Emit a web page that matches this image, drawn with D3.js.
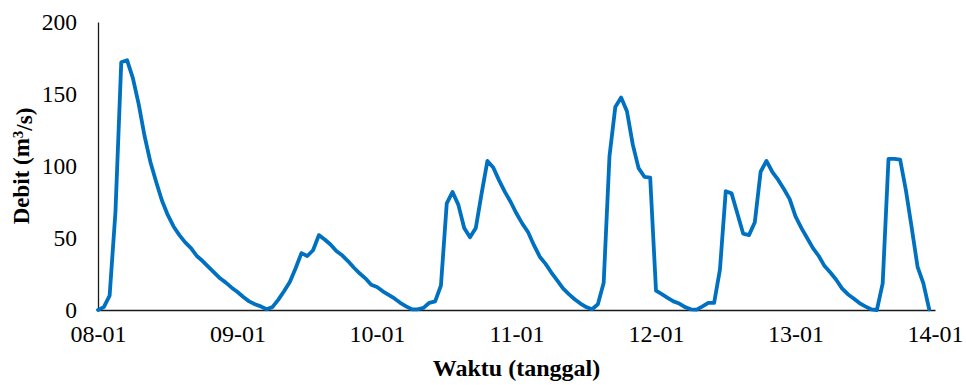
<!DOCTYPE html>
<html>
<head>
<meta charset="utf-8">
<script src="https://cdn.jsdelivr.net/npm/d3@7"></script>
<style>
  html, body { margin: 0; padding: 0; background: #fff; }
  svg { display: block; }
  text { font-family: "Times New Roman", "Liberation Serif", serif; fill: #000; }
</style>
</head>
<body>
<svg id="chart" width="966" height="385"></svg>
<script>
// Hourly discharge (m3/s), starting 08-01 00:00
const debit = [
  0, 2, 10, 68, 172, 173.5, 161, 143, 121, 103,
  89, 76, 66, 58, 52, 47, 43, 37.5, 34, 30,
  26, 22, 19, 15.5, 12.5, 9, 6, 4, 2.5, 0.5,
  2, 7, 13, 19.5, 29, 39.5, 37.5, 41.5, 52, 49,
  45.5, 41, 38, 34, 29.5, 25.5, 22, 17.5, 16, 13,
  10.5, 8, 5, 2.5, 0.5, 0.5, 1.5, 5, 6, 17,
  74, 82, 73, 57, 50.5, 57, 81, 103.5, 99, 90,
  82, 75, 67, 60, 54, 45, 37, 32, 26, 20.5,
  15, 11, 7.5, 4.5, 2, 0.5, 4, 19, 107, 141,
  147.5, 138, 115, 98.5, 92.5, 92, 13.4, 11, 8.5, 6,
  4.5, 2, 0.5, 0.3, 2.5, 5, 5, 28, 82.5, 81,
  67, 53, 52, 61, 96, 103.5, 96, 90.5, 84, 77,
  65, 57, 50, 43, 37.5, 30.5, 26, 21, 15, 11,
  8, 4.8, 2.5, 0.5, 0, 18.5, 105, 105, 104.5, 83,
  57, 30, 18.5, 0.5
];
const dayLabels = ["08-01", "09-01", "10-01", "11-01", "12-01", "13-01", "14-01"];
const yTicks = [0, 50, 100, 150, 200];
const xTitle = "Waktu (tanggal)";
const yTitle = ["Debit (m", "3", "/s)"];

const plotLeft = 98, plotRight = 935, plotTop = 22, plotBottom = 310;

const svg = d3.select("#chart");

const x = d3.scaleLinear().domain([0, 24 * (dayLabels.length - 1)]).range([plotLeft, plotRight]);
const y = d3.scaleLinear().domain([0, 200]).range([plotBottom, plotTop]);

// x axis
const xAxis = d3.axisBottom(x)
  .tickValues(dayLabels.map((d, i) => i * 24))
  .tickFormat((d, i) => dayLabels[i])
  .tickSize(0)
  .tickPadding(15);
const gx = svg.append("g").attr("transform", `translate(0,${plotBottom})`).call(xAxis);
gx.select(".domain").attr("stroke", "#1a1a1a").attr("stroke-width", 1.3);
gx.selectAll("text").style("font-size", "24px").attr("fill", "#000");

// y axis
const yAxis = d3.axisLeft(y).tickValues(yTicks).tickSize(0).tickPadding(21);
const gy = svg.append("g").attr("transform", `translate(${plotLeft},0)`).call(yAxis);
gy.select(".domain").attr("stroke", "#1a1a1a").attr("stroke-width", 1.3);
gy.selectAll("text").style("font-size", "23.5px").attr("fill", "#000");

// discharge line
const line = d3.line().x((d, i) => x(i)).y(d => y(d)).curve(d3.curveLinear);
svg.append("path")
  .datum(debit)
  .attr("fill", "none")
  .attr("stroke", "#0070C0")
  .attr("stroke-width", 3.8)
  .attr("stroke-linejoin", "round")
  .attr("stroke-linecap", "round")
  .attr("d", line);

// axis titles
svg.append("text")
  .attr("x", (plotLeft + plotRight) / 2)
  .attr("y", 376)
  .attr("text-anchor", "middle")
  .style("font-size", "24px")
  .style("font-weight", "bold")
  .text(xTitle);

const yt = svg.append("text")
  .attr("transform", `translate(29,${(plotTop + plotBottom) / 2}) rotate(-90)`)
  .attr("text-anchor", "middle")
  .style("font-size", "23px")
  .style("font-weight", "bold");
yt.append("tspan").text(yTitle[0]);
yt.append("tspan").attr("dy", "-0.4em").style("font-size", "15px").text(yTitle[1]);
yt.append("tspan").attr("dy", "0.4em").text(yTitle[2]);
</script>
</body>
</html>
